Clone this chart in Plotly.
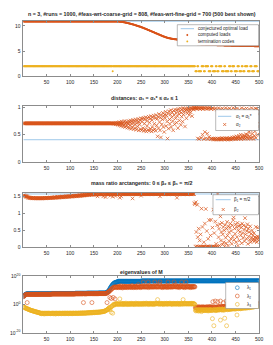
import plotly.graph_objects as go

W, H = 273, 345
FONT = "Liberation Sans"
TXT = "#262626"
BOX = "#8c8c8c"
BLUE = "#0072BD"
ORANGE = "#D95319"
YELLOW = "#EDB120"
LIGHT = "#9ec8ea"

idx = list(range(1, 501))

# ---------------- panel 1 ----------------
optimal_load = 10.9
loads = [
10.85,10.85,10.85,10.85,10.85,10.85,10.85,10.85,10.85,10.85,10.85,10.85,10.85,10.85,10.85,10.85,10.85,10.85,10.85,10.85,10.85,10.85,10.85,10.85,10.85,
10.85,10.85,10.85,10.85,10.85,10.85,10.85,10.85,10.85,10.85,10.85,10.85,10.85,10.85,10.85,10.85,10.85,10.85,10.85,10.85,10.85,10.85,10.85,10.85,10.85,
10.85,10.85,10.85,10.85,10.85,10.85,10.85,10.85,10.85,10.85,10.85,10.85,10.85,10.85,10.85,10.85,10.85,10.85,10.85,10.85,10.85,10.85,10.85,10.85,10.85,
10.85,10.85,10.85,10.85,10.85,10.85,10.85,10.85,10.85,10.85,10.85,10.85,10.85,10.85,10.85,10.85,10.85,10.85,10.85,10.85,10.85,10.85,10.85,10.85,10.85,
10.85,10.85,10.85,10.85,10.85,10.85,10.85,10.85,10.85,10.85,10.85,10.85,10.85,10.85,10.85,10.85,10.85,10.85,10.85,10.85,10.85,10.85,10.85,10.85,10.85,
10.85,10.85,10.85,10.85,10.85,10.85,10.85,10.85,10.85,10.85,10.85,10.85,10.85,10.85,10.85,10.85,10.85,10.85,10.85,10.85,10.85,10.85,10.85,10.85,10.85,
10.85,10.85,10.85,10.85,10.85,10.85,10.85,10.85,10.85,10.85,10.85,10.85,10.85,10.85,10.85,10.85,10.85,10.85,10.85,10.85,10.85,10.85,10.85,10.85,10.85,
10.85,10.85,10.85,10.85,10.85,10.85,10.85,10.85,10.85,10.85,10.85,10.85,10.85,10.85,10.85,10.85,10.85,10.85,10.85,10.85,10.85,10.85,10.85,10.85,10.85,
10.84,10.83,10.83,10.82,10.81,10.80,10.79,10.78,10.77,10.75,10.74,10.72,10.71,10.69,10.67,10.65,10.63,10.61,10.59,10.57,10.55,10.53,10.51,10.48,10.46,
10.44,10.41,10.39,10.36,10.34,10.31,10.28,10.26,10.23,10.20,10.17,10.14,10.11,10.08,10.05,10.02,9.99,9.96,9.93,9.90,9.87,9.84,9.81,9.78,9.74,
9.71,9.67,9.64,9.60,9.57,9.53,9.49,9.46,9.42,9.38,9.34,9.30,9.26,9.22,9.18,9.14,9.10,9.06,9.02,8.98,8.94,8.90,8.86,8.82,8.78,
8.74,8.70,8.66,8.62,8.58,8.54,8.50,8.46,8.42,8.38,8.34,8.30,8.26,8.22,8.18,8.14,8.10,8.06,8.02,7.98,7.94,7.91,7.87,7.84,7.80,
7.77,7.74,7.71,7.68,7.65,7.62,7.60,7.58,7.55,7.53,7.51,7.49,7.47,7.45,7.43,7.42,7.40,7.39,7.37,7.36,7.34,7.33,7.32,7.31,7.30,
7.29,7.28,7.27,7.26,7.25,7.24,7.23,7.22,7.21,7.20,7.19,7.18,7.17,7.16,7.15,7.14,7.13,7.12,7.11,7.10,7.09,7.08,7.07,7.06,7.05,
7.04,7.03,7.02,7.01,7.00,6.99,6.98,6.97,6.96,6.95,6.94,6.93,6.70,6.55,6.45,6.40,6.38,6.37,6.36,6.35,6.34,6.34,6.33,6.33,6.32,
6.32,6.31,6.31,6.30,6.30,6.29,6.29,6.28,6.28,6.27,6.27,6.26,6.26,6.25,6.25,6.24,6.24,6.23,6.23,6.22,6.22,6.21,6.21,6.20,6.20,
6.20,6.19,6.19,6.19,6.18,6.18,6.18,6.17,6.17,6.17,6.16,6.16,6.16,6.15,6.15,6.15,6.14,6.14,6.14,6.13,6.13,6.13,6.12,6.12,6.12,
6.11,6.11,6.11,6.10,6.10,6.10,6.09,6.09,6.09,6.08,6.08,6.08,6.07,6.07,6.07,6.06,6.06,6.06,6.05,6.05,6.05,6.04,6.04,6.04,6.03,
6.03,6.03,6.03,6.02,6.02,6.02,6.02,6.02,6.01,6.01,6.01,6.01,6.01,6.00,6.00,6.00,6.00,6.00,6.00,5.99,5.99,5.99,5.99,5.99,5.99,
5.99,5.98,5.98,5.98,5.98,5.98,5.98,5.97,5.97,5.97,5.97,5.97,5.97,5.97,5.96,5.96,5.96,5.96,5.96,5.96,5.96,5.95,5.95,5.95,5.95,
]
codes = [
2,2,2,2,2,2,2,2,2,2,2,2,2,2,2,2,2,2,2,2,2,2,2,2,2,
2,2,2,2,2,2,2,2,2,2,2,2,2,2,2,2,2,2,2,2,2,2,2,2,2,
2,2,2,2,2,2,2,2,2,2,2,2,2,2,2,2,2,2,2,2,2,2,2,2,2,
2,2,2,2,2,2,2,2,2,2,2,2,2,2,2,2,2,2,2,2,2,2,2,2,2,
2,2,2,2,2,2,2,2,2,2,2,2,2,2,2,2,2,2,2,2,2,2,2,2,2,
2,2,2,2,2,2,2,2,2,2,2,2,2,2,2,2,2,2,2,2,2,2,2,2,2,
2,2,2,2,2,2,2,2,2,2,2,2,2,2,2,2,2,2,2,2,2,2,2,2,2,
2,2,2,2,2,2,2,2,2,2,2,2,2,2,1,2,2,2,2,2,2,2,2,2,2,
2,2,2,2,2,2,2,2,2,2,2,2,2,2,2,2,2,2,2,2,2,2,2,2,2,
2,2,2,2,2,2,2,2,2,2,2,2,2,2,2,2,2,2,2,2,2,2,2,2,2,
2,2,2,2,2,2,2,2,2,2,2,2,2,2,2,2,2,2,2,2,2,2,2,2,2,
2,2,2,2,2,2,2,2,2,2,2,2,2,2,2,2,2,2,2,2,2,2,2,2,2,
2,2,2,2,2,2,2,2,2,2,2,2,2,2,2,2,2,2,2,2,2,2,2,2,2,
2,2,2,2,2,2,2,2,2,2,2,2,2,2,2,2,2,2,2,2,2,2,2,2,2,
2,2,2,2,2,2,2,2,2,2,2,2,2,2,
1,1,1,1,2,2,2,1,1,1,1,1,1,2,2,2,2,2,1,1,1,2,2,2,2,2,2,2,1,1,1,1,1,2,2,2,2,
1,1,1,1,1,1,2,2,2,1,1,1,1,2,2,2,2,2,2,1,1,1,1,1,2,2,2,1,1,1,1,1,1,1,2,2,2,2,
1,1,1,2,2,2,2,2,1,1,1,1,1,1,2,2,2,2,1,1,1,1,1,2,2,2,1,1,1,1,2,2,2,2,2,2,
1,1,1,1,1,2,2,2,2,1,1,1,1,1,2,2,2,2,2,2,1,1,1,1,1,
]

# ---------------- panel 2 ----------------
alpha1_star = 0.408
alpha2 = [
0.707,0.707,0.707,0.707,0.707,0.707,0.707,0.707,0.707,0.707,0.707,0.707,0.707,0.707,0.707,0.707,0.707,0.707,0.707,0.707,0.707,0.707,0.707,0.707,0.707,
0.707,0.707,0.707,0.707,0.707,0.707,0.707,0.707,0.707,0.707,0.707,0.707,0.707,0.707,0.707,0.707,0.707,0.707,0.707,0.707,0.707,0.707,0.707,0.707,0.707,
0.707,0.707,0.707,0.707,0.707,0.707,0.707,0.707,0.707,0.707,0.707,0.707,0.707,0.707,0.707,0.707,0.707,0.707,0.707,0.707,0.707,0.707,0.707,0.707,0.707,
0.707,0.707,0.707,0.707,0.707,0.707,0.707,0.707,0.707,0.707,0.707,0.707,0.707,0.707,0.707,0.707,0.707,0.707,0.707,0.707,0.707,0.707,0.707,0.707,0.707,
0.707,0.707,0.707,0.707,0.707,0.707,0.707,0.707,0.707,0.707,0.707,0.707,0.707,0.707,0.707,0.707,0.707,0.707,0.707,0.707,0.707,0.707,0.707,0.707,0.707,
0.707,0.707,0.707,0.707,0.707,0.707,0.707,0.707,0.707,0.707,0.707,0.707,0.707,0.707,0.707,0.707,0.707,0.707,0.707,0.707,0.707,0.707,0.707,0.707,0.707,
0.707,0.707,0.707,0.707,0.707,0.707,0.707,0.707,0.707,0.707,0.707,0.707,0.707,0.707,0.707,0.707,0.707,0.707,0.707,0.707,0.707,0.707,0.707,0.707,0.707,
0.707,0.707,0.707,0.707,0.707,0.707,0.707,0.707,0.707,0.707,0.707,0.707,0.707,0.707,0.707,
0.707,0.70,0.71,0.70,0.71,0.69,0.72,0.70,0.71,0.69,
0.72,0.68,0.71,0.73,0.67,0.70,0.72,0.66,0.74,0.69,0.71,0.65,0.73,0.68,0.75,0.64,0.70,0.72,0.66,0.74,0.63,0.71,0.69,0.75,0.62,
0.73,0.67,0.76,0.61,0.70,0.74,0.64,0.77,0.60,0.72,0.68,0.76,0.62,0.78,0.59,0.71,0.75,0.65,0.79,0.58,0.73,0.69,0.77,0.60,0.80,
0.58,0.74,0.79,0.62,0.81,0.57,0.70,0.78,0.60,0.82,0.56,0.75,0.66,0.80,0.59,0.83,0.57,0.72,0.79,0.61,0.84,0.56,0.77,0.64,0.82,
0.58,0.85,0.70,0.60,0.80,0.57,0.86,0.67,0.79,0.47,0.83,0.62,0.88,0.73,0.58,0.81,0.45,0.86,0.69,0.78,0.90,0.64,0.84,0.55,0.87,
0.80,0.92,0.66,0.85,0.74,0.43,0.89,0.61,0.93,0.78,0.70,0.87,0.95,0.64,0.82,0.91,0.75,0.58,0.94,0.86,0.69,0.96,0.80,0.90,0.72,
0.95,0.84,0.62,0.97,0.88,0.76,0.93,0.98,0.68,0.90,0.83,0.96,0.74,0.99,0.87,0.92,0.97,0.65,0.94,0.98,0.80,0.96,0.89,0.99,0.93,
0.97,0.86,0.99,0.95,0.91,0.98,0.99,0.84,0.97,1.00,0.96,0.99,
0.99,1.00,0.98,0.99,1.00,0.97,0.99,0.43,1.00,0.98,0.42,0.99,0.97,
1.00,0.44,0.98,0.99,0.50,0.97,1.00,0.42,0.99,0.55,0.98,0.43,1.00,0.97,0.52,0.99,0.42,0.98,0.46,1.00,0.99,0.42,0.97,0.43,0.98,
0.42,0.99,0.43,0.41,0.97,0.42,0.43,0.98,0.41,0.42,0.96,0.43,0.42,0.99,0.41,0.42,0.43,0.97,0.42,0.41,0.44,0.98,0.42,0.43,0.96,
0.42,0.41,0.43,0.99,0.42,0.44,0.42,0.97,0.41,0.43,0.42,0.98,0.44,0.42,0.41,0.96,0.43,0.45,0.42,0.99,0.43,0.46,0.42,0.97,0.44,
0.42,0.47,0.98,0.43,0.45,0.42,0.48,0.96,0.44,0.43,0.50,0.42,0.99,0.46,0.44,0.49,0.42,0.97,0.45,0.48,0.43,0.51,0.98,0.46,0.44,
0.50,0.42,0.55,0.97,0.47,0.44,0.58,0.43,0.99,0.52,0.46,0.60,0.42,0.96,0.48,0.56,0.98,0.44,0.62,0.97,0.50,0.88,0.95,0.72,0.65,
]

# ---------------- panel 3 ----------------
beta1 = 1.5708
beta2 = [
1.52,1.53,1.51,1.52,1.50,1.51,1.49,1.50,1.49,1.48,
1.47,1.46,1.47,1.46,1.45,1.46,1.45,1.46,1.45,1.44,1.45,1.46,1.45,1.44,1.45,1.44,1.45,1.45,1.44,1.45,1.44,1.45,1.44,1.45,1.44,
1.45,1.44,1.45,1.44,1.45,1.44,1.45,1.45,1.44,1.45,1.46,1.45,1.44,1.45,1.46,1.45,1.45,1.46,1.45,1.46,1.45,1.46,1.47,1.45,1.46,
1.46,1.47,1.45,1.46,1.47,1.46,1.47,1.48,1.46,1.47,1.46,1.48,1.47,1.49,1.46,1.47,1.48,1.47,1.49,1.48,1.47,1.49,1.48,1.50,1.47,
1.48,1.49,1.48,1.50,1.49,1.48,1.50,1.49,1.51,1.48,1.50,1.49,1.51,1.50,1.49,1.51,1.50,1.52,1.49,1.51,1.50,1.52,1.51,1.50,1.52,
1.51,1.53,1.50,1.52,1.51,1.53,1.52,1.51,1.53,1.52,1.54,1.51,1.53,1.52,1.54,1.53,1.55,1.52,1.54,1.53,1.55,1.54,1.53,1.55,1.54,
1.55,1.54,1.56,1.55,1.54,1.56,1.55,1.56,1.55,1.56,1.56,1.55,1.56,1.56,1.55,1.56,1.56,1.56,1.55,1.56,1.56,1.56,1.50,1.56,1.56,
1.56,1.57,1.56,1.56,1.57,1.56,1.57,1.56,1.56,1.50,1.57,1.56,1.57,1.56,1.48,1.57,1.56,1.57,1.56,1.57,1.56,1.56,1.57,1.56,1.52,
1.57,1.56,1.57,1.56,1.49,1.57,1.56,1.57,1.56,1.57,1.51,1.57,1.56,1.57,1.57,1.56,1.57,1.57,1.56,1.46,1.57,1.57,1.50,1.56,1.57,
1.57,1.56,1.57,1.57,1.57,1.56,1.57,1.57,1.57,1.56,1.57,1.57,1.57,1.56,1.57,1.57,1.57,1.57,1.56,1.57,1.57,1.44,1.57,1.57,1.57,
1.57,1.56,1.57,1.57,1.57,1.57,1.56,1.57,1.57,1.57,1.57,1.57,1.56,1.57,1.52,1.57,1.57,1.57,1.56,1.57,1.57,1.57,1.57,1.57,1.56,
1.57,1.57,1.57,1.57,1.56,1.57,1.57,1.57,1.57,1.57,1.57,1.57,1.56,1.57,1.57,1.57,1.57,1.57,1.57,1.56,1.57,1.57,1.57,1.57,1.57,
1.57,1.57,1.57,1.57,1.50,1.57,1.57,1.57,1.56,1.57,1.57,1.57,1.57,1.57,1.57,1.56,1.57,1.57,1.57,1.57,1.57,1.57,1.56,1.57,1.57,
1.57,1.57,1.57,1.57,1.57,1.56,1.57,1.57,1.57,1.57,1.57,1.57,1.57,1.57,1.57,1.46,1.57,1.57,1.57,1.56,1.57,1.57,1.57,1.57,1.57,
1.57,1.57,1.57,1.56,1.57,1.57,1.57,1.57,1.57,1.57,1.57,1.57,1.56,1.57,1.57,1.57,1.57,1.57,1.57,1.57,1.56,1.57,1.57,1.57,1.57,
1.57,1.57,
1.30,1.27,0.02,1.33,0.45,0.03,1.25,0.30,0.02,0.55,0.01,0.20,0.02,0.38,0.01,1.14,0.02,0.60,0.01,0.03,0.15,0.02,0.70,0.01,1.13,
0.02,0.48,0.01,0.03,0.25,0.02,0.80,0.01,0.02,0.35,0.81,0.01,0.02,0.58,0.03,1.11,0.01,0.42,0.02,0.76,0.01,0.10,0.02,0.65,1.57,
0.02,0.30,0.55,0.05,0.68,0.91,0.20,0.45,0.72,0.08,0.38,0.60,0.15,0.50,0.03,0.66,0.28,0.12,0.55,0.75,0.35,0.05,0.62,0.44,0.18,
0.58,0.70,0.25,0.48,0.10,0.65,0.32,0.80,0.88,0.22,0.55,0.40,0.68,0.15,0.60,0.30,0.72,0.05,0.50,0.62,0.20,0.45,0.66,0.35,0.58,
0.12,0.70,0.42,0.28,0.64,0.52,0.18,0.86,0.38,0.60,0.25,0.48,0.68,0.10,0.55,0.32,0.45,0.22,0.62,0.15,0.40,0.28,0.50,0.20,0.35,
0.25,0.42,0.18,0.30,0.22,0.60,0.28,0.15,0.32,0.58,0.20,0.26,0.30,
]

# ---------------- panel 4 ----------------
lam1 = [
6e5,1.5e6,4e6,8e6,1.2e7,2e7,3e7,4e7,5e7,5e7,
4e7,4e7,4e7,4e7,4e7,4e7,4e7,4e7,4e7,4e7,4e7,4e7,4e7,4e7,4e7,4e7,4e7,4e7,4e7,4e7,4e7,4e7,4e7,4e7,4e7,
4e7,4e7,4e7,4e7,4e7,4e7,4e7,4e7,4e7,4e7,4e7,4e7,4e7,4e7,4e7,4e7,4e7,4e7,4e7,4e7,4e7,4e7,4e7,4e7,4e7,
6e7,6e7,6e7,6e7,6e7,6e7,6e7,6e7,6e7,6e7,6e7,6e7,6e7,6e7,6e7,6e7,6e7,6e7,6e7,6e7,6e7,6e7,6e7,6e7,6e7,
6e7,6e7,6e7,6e7,6e7,6e7,6e7,6e7,6e7,6e7,6e7,6e7,6e7,6e7,6e7,6e7,6e7,6e7,6e7,6e7,6e7,6e7,6e7,6e7,6e7,
1e8,1e8,1e8,1e8,1e8,1e8,1e8,1e8,1e8,1e8,1e8,1e8,1e8,1e8,1e8,1e8,1e8,1e8,1e8,1e8,1e8,1e8,1e8,1e8,1e8,
1.2e8,1.2e8,1.2e8,1.2e8,1.2e8,1.2e8,1.2e8,1.2e8,1.2e8,1.2e8,1.2e8,1.2e8,1.2e8,1.2e8,1.2e8,1.2e8,1.2e8,1.2e8,1.2e8,1.2e8,1.2e8,1.2e8,1.2e8,1.2e8,1.2e8,
1.5e8,1.5e8,1.5e8,1.5e8,1.5e8,1.5e8,1.5e8,1.5e8,1.5e8,1.5e8,1.5e8,1.5e8,1.5e8,1.5e8,1.5e8,2e8,3e8,5e8,8e8,1.5e9,
3e9,1e10,4e10,1.5e11,6e11,2e12,7e12,2e13,6e13,1.5e14,4e14,8e14,1.5e15,2.5e15,4e15,5e15,6e15,7e15,8e15,9e15,
3e16,3e16,3e16,3e16,3e16,3e16,3e16,3e16,3e16,3e16,3e16,3e16,3e16,3e16,3e16,3e16,3e16,3e16,3e16,3e16,3e16,3e16,3e16,3e16,3e16,
3e16,3e16,3e16,3e16,3e16,3e16,3e16,3e16,3e16,3e16,3e16,3e16,3e16,3e16,3e16,3e16,3e16,3e16,3e16,3e16,3e16,3e16,3e16,3e16,3e16,
5e16,5e16,5e16,5e16,5e16,5e16,5e16,5e16,5e16,5e16,5e16,5e16,5e16,5e16,5e16,5e16,5e16,5e16,5e16,5e16,5e16,5e16,5e16,5e16,5e16,
5e16,5e16,5e16,5e16,5e16,5e16,5e16,5e16,5e16,5e16,5e16,5e16,5e16,5e16,5e16,5e16,5e16,5e16,5e16,5e16,5e16,5e16,5e16,5e16,5e16,
5e16,5e16,5e16,5e16,5e16,5e16,5e16,5e16,5e16,5e16,5e16,5e16,5e16,5e16,5e16,5e16,5e16,5e16,5e16,5e16,5e16,5e16,5e16,5e16,5e16,
5e16,5e16,5e16,5e16,5e16,5e16,5e16,5e16,5e16,5e16,5e16,5e16,5e16,5e16,5e16,5e16,5e16,5e16,5e16,5e16,5e16,5e16,5e16,5e16,5e16,
6e16,6e16,6e16,6e16,6e16,6e16,6e16,6e16,6e16,6e16,6e16,6e16,6e16,6e16,6e16,6e16,6e16,6e16,6e16,6e16,6e16,6e16,6e16,6e16,6e16,
6e16,6e16,6e16,6e16,6e16,6e16,6e16,6e16,6e16,6e16,6e16,6e16,6e16,6e16,6e16,6e16,6e16,6e16,6e16,6e16,6e16,6e16,6e16,6e16,6e16,
6e16,6e16,6e16,6e16,6e16,6e16,6e16,6e16,6e16,6e16,6e16,6e16,6e16,6e16,6e16,6e16,6e16,6e16,6e16,6e16,6e16,6e16,6e16,6e16,6e16,
6e16,6e16,6e16,6e16,6e16,6e16,6e16,6e16,6e16,6e16,6e16,6e16,6e16,6e16,6e16,6e16,6e16,6e16,6e16,6e16,6e16,6e16,6e16,6e16,6e16,
6e16,6e16,6e16,6e16,6e16,6e16,6e16,6e16,6e16,6e16,6e16,6e16,6e16,6e16,6e16,6e16,6e16,6e16,6e16,6e16,6e16,6e16,6e16,6e16,6e16,
6e16,6e16,6e16,6e16,6e16,6e16,6e16,6e16,6e16,6e16,6e16,6e16,6e16,6e16,6e16,6e16,6e16,6e16,6e16,6e16,6e16,6e16,6e16,6e16,6e16,
]
lam2 = [
3e5,8e5,2e6,4e6,6e6,1e7,1.5e7,2e7,25,2e7,
1.5e7,2e7,1.5e7,2e7,1.5e7,2e7,1.5e7,2e7,1.5e7,2e7,1.5e7,2e7,1.5e7,2e7,1.5e7,2e7,1.5e7,2e7,1.5e7,2e7,1.5e7,2e7,1.5e7,2e7,1.5e7,
2e7,2e7,2e7,2e7,2e7,2e7,2e7,2e7,2e7,2e7,2e7,2e7,2e7,2e7,2e7,2e7,2e7,2e7,2e7,2e7,2e7,2e7,2e7,2e7,2e7,
3e7,3e7,3e7,3e7,3e7,3e7,3e7,3e7,3e7,3e7,3e7,3e7,3e7,3e7,3e7,3e7,3e7,3e7,3e7,3e7,3e7,3e7,3e7,3e7,3e7,
3e7,3e7,3e7,3e7,3e7,3e7,3e7,3e7,3e7,3e7,3e7,3e7,3e7,3e7,3e7,3e7,3e7,3e7,3e7,3e7,3e7,3e7,3e7,3e7,3e7,
4e7,4e7,4e7,4e7,4e7,4e7,4e7,4e7,4e7,4e7,4e7,4e7,4e7,4e7,4e7,4e7,4e7,25,4e7,4e7,4e7,4e7,4e7,4e7,4e7,
5e7,5e7,5e7,5e7,5e7,5e7,5e7,5e7,5e7,5e7,25,5e7,5e7,5e7,5e7,5e7,5e7,5e7,5e7,5e7,5e7,5e7,5e7,5e7,5e7,
6e7,6e7,6e7,6e7,6e7,6e7,6e7,6e7,6e7,6e7,6e7,6e7,6e7,6e7,6e7,8e7,1e8,25,2e8,4e8,
8e8,1.5e9,3e9,1e5,1e10,3e10,2e4,1e11,3e11,5e11,1e5,1e12,2e12,3e12,1e4,2e12,3e12,1e12,2e12,3e12,
3e12,1e12,5e12,2e12,8e12,1e12,3e12,2e13,1e12,4e12,6e11,3e12,1e13,2e12,5e12,1e12,3e12,8e12,2e12,4e12,1e12,6e12,3e12,2e12,5e12,
2e12,8e12,3e12,1e12,5e12,3e13,2e12,4e12,1e12,6e12,3e12,2e12,9e12,4e12,1e12,5e12,2e12,3e12,1e14,4e12,2e12,6e12,3e12,1e12,5e12,
3e12,8e12,2e12,5e12,1e16,3e12,6e12,2e12,4e12,1e13,3e12,5e12,2e12,7e12,1e16,1e12,5e12,2e13,3e12,6e12,2e12,4e12,8e12,3e12,5e12,
2e12,6e12,3e12,1e16,4e12,8e12,2e12,5e12,3e12,1e13,6e12,2e12,4e12,3e14,1e16,5e12,2e12,7e12,4e12,1e12,5e12,3e12,8e12,2e12,6e12,
3e12,5e12,2e13,4e12,1e12,6e12,1e16,3e12,5e12,2e12,8e12,4e12,3e12,6e12,2e12,1e13,4e12,3e12,5e12,1e16,7e12,3e12,1e14,4e12,6e12,
2e12,5e12,3e12,8e12,4e12,1e12,6e12,3e12,2e13,5e12,1e16,4e12,2e12,6e12,3e12,5e12,1e12,7e12,3e12,1e16,2e12,6e12,3e12,1e13,5e12,
3e12,2e12,6e12,4e12,1e12,5e12,3e12,8e12,2e12,4e12,3e12,5e12,
5e12,3e12,1e-2,3e-3,1e-2,5e-3,2e-2,1e-3,8e-3,3e-2,5e-3,1e-2,2e-3,2e-2,6e-3,1e-2,4e-3,3e-2,1e-2,5e-3,2e-2,8e-3,1e-2,3e-3,2e-2,
1e-2,5e-3,3e-2,1e-2,4e-3,2e-2,8e-3,1e-2,5e-2,3e-3,1e-2,2e-2,6e-3,1e-2,1e2,3e-2,5e-3,2e-2,1e-2,3e2,8e-3,2e-2,1e-2,4e-3,1e2,
3e-2,1e-2,5e-2,2e-2,1e-2,3e2,4e-2,2e-2,1e-2,5e-2,3e-2,2e1,2e-2,6e-2,3e-2,1e-2,5e-2,3e2,2e-2,4e-2,1e-1,3e-2,6e-2,2e-2,5e-2,
1e-1,4e-2,8e-2,2e-2,1e-1,6e-2,3e-2,1e-1,5e-2,2e-1,8e-2,4e-2,1e-1,6e-2,2e-1,1e-1,5e-2,3e-1,1e-1,8e-2,2e-1,1e-1,3e-1,2e-1,1e-1,
3e-1,2e-1,5e-1,1e-1,3e-1,2e-1,5e-1,3e-1,8e-1,2e-1,5e-1,3e-1,1,4e-1,6e-1,3e-1,1,5e-1,8e-1,4e-1,1,6e-1,2,8e-1,1,
1,2,8e-1,1.5,1,2,3,1.5,2,3,2,3,4,
]
lam3 = [
2e-2,1.5e-2,1e-2,6e-3,4e-3,3e-3,2e-3,1.5e-3,1e-3,8e-4,
5e-4,4e-4,3e-4,2e-4,1.5e-4,1e-4,8e-5,6e-5,5e-5,4e-5,3e-5,2.5e-5,2e-5,1.5e-5,1.2e-5,1e-5,8e-6,6e-6,5e-6,4e-6,3e-6,3e-6,2e-6,2e-6,1.5e-6,
1e-6,5e-7,8e-7,3e-7,6e-7,1e-6,4e-7,7e-7,5e-7,2e-7,6e-7,1e-6,4e-7,5e-7,8e-7,3e-7,6e-7,5e-7,1e-6,4e-7,7e-7,5e-7,3e-7,6e-7,8e-7,
5e-7,4e-7,7e-7,1e-6,3e-7,6e-7,5e-7,8e-7,2e-7,6e-7,1e-6,4e-7,5e-7,7e-7,3e-7,6e-7,1e-6,5e-7,4e-7,8e-7,6e-7,3e-7,7e-7,5e-7,1e-6,
4e-7,6e-7,8e-7,3e-7,1e-6,5e-7,7e-7,4e-7,6e-7,1e-6,5e-7,3e-7,8e-7,6e-7,4e-7,1e-6,7e-7,5e-7,3e-7,6e-7,8e-7,1e-6,4e-7,6e-7,5e-7,
7e-7,1e-6,5e-7,8e-7,4e-7,6e-7,1e-6,7e-7,5e-7,1e-6,8e-7,6e-7,1.2e-6,5e-7,9e-7,1e-6,7e-7,1.5e-6,6e-7,1e-6,8e-7,1.2e-6,1e-6,7e-7,1.5e-6,
1e-6,2e-6,1.5e-6,8e-7,2e-6,1.2e-6,3e-6,1.5e-6,2e-6,1e-6,3e-6,2e-6,1.5e-6,4e-6,2e-6,3e-6,1.5e-6,4e-6,2.5e-6,3e-6,5e-6,2e-6,4e-6,3e-6,5e-6,
4e-6,6e-6,3e-6,5e-6,8e-6,6e-6,1e-5,7e-6,1.2e-5,1e-5,1.5e-5,2e-5,1.5e-5,3e-5,5e-5,8e-5,1e-4,2e-4,3e-4,5e-4,
1e-3,3e-3,1e-2,2e-4,5e-3,2e-2,3e-6,5e-2,1e-1,8e-7,3e-1,1,2,5e-1,1,3,2,5,3,2,
3,1,5,2,1e4,1.5,4,2,8,1,3,6,2,1,5,3,2,10,1.5,4,2,1,6,3,2,
5,1,3,8,2,4,1.5,6,2,3,1,5,2,10,3,1.5,4,2,7,3,1,5,2,4,3,
2,6,1,4,3,8,2,5,1.5,3,10,4,2,6,3,1,5,2,8,4,3,1.5,6,2,5,
3,1,8,4,2,6,3,10,5,3e3,2,7,4,1.5,5,3,8,2,6,4,3,1,5,3,7,
2,5,3,8,1.5,4,6,2,5,3,10,4,2,6,3,1,5,4,7,2,3,6,4,1.5,5,
3,8,2,5,4,1,6,3,7,2,5,4,1.5,3e3,6,3,8,2,5,4,3,6,2,5,4,
3,6,2,5,4,8,3,2,6,4,3,5,
2,1,1e-4,3e-5,2e-4,1e-4,5e-5,3e-4,1e-4,2e-5,1e-4,3e-4,5e-5,1e-4,2e-4,1e-5,1e-4,3e-4,5e-5,1e-4,2e-4,1e-4,5e-5,1e-4,3e-4,
1e-4,5e-5,2e-4,1e-4,3e-5,2e-4,1e-4,5e-5,3e-4,1e-4,2e-4,1e-4,5e-5,1e-10,2e-4,1e-4,1e-15,3e-4,1e-4,2e-4,5e-5,1e-4,3e-4,1e-4,2e-4,
2e-4,5e-4,1e-4,3e-4,2e-4,1e-11,5e-4,2e-4,3e-4,1e-4,5e-4,2e-4,3e-4,1e-4,2e-10,5e-4,3e-4,1e-3,1e-15,5e-4,2e-4,1e-3,3e-4,5e-4,1e-3,
3e-4,1e-3,5e-4,2e-3,1e-3,5e-4,2e-3,1e-3,3e-3,1e-3,2e-3,5e-4,3e-3,1e-3,2e-3,4e-8,3e-3,2e-3,1e-3,5e-3,2e-3,3e-3,1e-3,5e-3,2e-3,
3e-3,5e-3,2e-3,8e-3,3e-3,5e-3,1e-2,3e-3,5e-3,1e-2,3e-3,8e-3,1e-2,5e-3,2e-2,1e-2,5e-3,2e-2,1e-2,3e-2,1e-2,2e-2,5e-2,1e-2,3e-2,
5e-2,2e-2,1e-1,3e-2,5e-2,1e-1,5e-2,2e-1,1e-1,5e-2,2e-1,1e-1,3e-1,
]

x_ticks = [50, 100, 150, 200, 250, 300, 350, 400, 450, 500]

# ---------------- figure ----------------
fig = go.Figure()


def sc(**kw):
    fig.add_trace(go.Scatter(showlegend=False, hoverinfo="skip", **kw))


sc(x=idx, y=[optimal_load] * len(idx), mode="lines", line=dict(color=LIGHT, width=1), xaxis="x", yaxis="y")
sc(x=idx, y=loads, mode="markers", marker=dict(color=ORANGE, size=2), xaxis="x", yaxis="y")
sc(x=idx, y=codes, mode="markers", marker=dict(color=YELLOW, size=2), xaxis="x", yaxis="y")

sc(x=idx, y=[alpha1_star] * len(idx), mode="lines", line=dict(color=LIGHT, width=1), xaxis="x2", yaxis="y2")
sc(x=idx, y=alpha2, mode="markers",
   marker=dict(symbol="x-thin-open", size=3.5, color=ORANGE, line=dict(color=ORANGE, width=0.7)),
   xaxis="x2", yaxis="y2")

sc(x=idx, y=[beta1] * len(idx), mode="lines", line=dict(color=LIGHT, width=1), xaxis="x3", yaxis="y3")
sc(x=idx, y=beta2, mode="markers",
   marker=dict(symbol="x-thin-open", size=3.5, color=ORANGE, line=dict(color=ORANGE, width=0.7)),
   xaxis="x3", yaxis="y3")

for lam, col in ((lam1, BLUE), (lam2, ORANGE), (lam3, YELLOW)):
    sc(x=idx, y=lam, mode="markers",
       marker=dict(symbol="circle-open", size=4, color=col, line=dict(color=col, width=0.6)),
       xaxis="x4", yaxis="y4")

X0, X1 = 15.4, 251.2
panels = [(12.7, 68.3), (98.3, 154.0), (185.0, 239.3), (268.3, 324.8)]
yspecs = [
    dict(range=[0, 11], tickvals=[0, 5, 10]),
    dict(range=[0, 1.02], tickvals=[0, 0.5, 1]),
    dict(range=[0, 1.6], tickvals=[0, 0.5, 1, 1.5]),
    dict(type="log", range=[-20, 20], tickvals=[1e-20, 1, 1e20],
         ticktext=["10<sup>-20</sup>", "10<sup>0</sup>", "10<sup>20</sup>"]),
]
tickfont = dict(family=FONT, size=5, color=TXT)
common = dict(ticks="inside", ticklen=2, tickwidth=0.6, tickcolor=BOX, showline=True,
              linecolor=BOX, linewidth=0.8, mirror="ticks", showgrid=False, zeroline=False,
              tickfont=tickfont, automargin=False, fixedrange=True)

layout = dict(width=W, height=H, margin=dict(l=0, r=0, t=0, b=0),
              paper_bgcolor="white", plot_bgcolor="white", showlegend=False,
              font=dict(family=FONT, color=TXT))
for i, (top, bot) in enumerate(panels):
    n = "" if i == 0 else str(i + 1)
    layout["xaxis" + n] = dict(domain=[X0 / W, X1 / W], anchor="y" + n, range=[1, 500],
                               tickvals=x_ticks, ticklabelstandoff=1, **common)
    layout["yaxis" + n] = dict(domain=[1 - bot / H, 1 - top / H], anchor="x" + n,
                               ticklabelstandoff=1, **yspecs[i], **common)

shapes, annots = [], []


def rect(x0, x1, y0, y1):
    shapes.append(dict(type="rect", xref="paper", yref="paper", x0=x0 / W, x1=x1 / W,
                       y0=1 - y1 / H, y1=1 - y0 / H, fillcolor="white",
                       line=dict(color=BOX, width=0.6), layer="above"))


def hline(x0, x1, y, color):
    shapes.append(dict(type="line", xref="paper", yref="paper", x0=x0 / W, x1=x1 / W,
                       y0=1 - y / H, y1=1 - y / H, line=dict(color=color, width=1), layer="above"))


def dot(x, y, r, color, fill=True):
    shapes.append(dict(type="circle", xref="paper", yref="paper", x0=(x - r) / W, x1=(x + r) / W,
                       y0=1 - (y + r) / H, y1=1 - (y - r) / H,
                       fillcolor=color if fill else "rgba(0,0,0,0)",
                       line=dict(color=color, width=0.1 if fill else 0.6), layer="above"))


def cross(x, y, r, color):
    for s in (1, -1):
        shapes.append(dict(type="line", xref="paper", yref="paper", x0=(x - r) / W, x1=(x + r) / W,
                           y0=1 - (y + s * r) / H, y1=1 - (y - s * r) / H,
                           line=dict(color=color, width=0.7), layer="above"))


def text(x, y, s, size=4.6, bold=False, anchor="left"):
    annots.append(dict(xref="paper", yref="paper", x=x / W, y=1 - y / H,
                       text=("<b>%s</b>" % s) if bold else s, showarrow=False,
                       xanchor=anchor, yanchor="middle", borderpad=0,
                       font=dict(family=FONT, size=size, color=TXT)))


# titles
text(133.5, 6.0, "n = 3, #runs = 1000, #feas-wrt-coarse-grid = 808, #feas-wrt-fine-grid = 700 (500 best shown)",
     size=5.3, bold=True, anchor="center")
text(136.0, 90.5, "distances: α₁ = α₁* ≤ α₂ ≤ 1", size=5.3, bold=True, anchor="center")
text(133.5, 175.5, "mass ratio arctangents: 0 ≤ β₂ ≤ β₁ = π/2", size=5.3, bold=True, anchor="center")
text(133.5, 264.0, "eigenvalues of M", size=5.3, bold=True, anchor="center")

# legend 1
rect(169.3, 250.5, 16.7, 37.8)
hline(172.7, 186.0, 20.7, LIGHT)
dot(179.3, 27.0, 0.9, ORANGE)
dot(179.3, 33.4, 0.9, YELLOW)
text(189.3, 20.7, "conjectured optimal load")
text(189.3, 27.0, "computed loads")
text(189.3, 33.4, "termination codes")

# legend 2
rect(207.7, 250.5, 101.7, 122.5)
hline(210.0, 223.3, 108.3, LIGHT)
cross(216.7, 116.5, 1.5, ORANGE)
text(226.7, 108.3, "α₁ = α₁*")
text(226.7, 116.5, "α₂")

# legend 3
rect(205.0, 250.5, 186.7, 206.7)
hline(207.7, 222.7, 191.7, LIGHT)
cross(215.2, 201.5, 1.5, ORANGE)
text(225.3, 191.7, "β₁ = π/2")
text(225.3, 201.5, "β₂")

# legend 4
rect(217.7, 250.5, 274.5, 300.5)
for yy, col, lab in ((279.7, BLUE, "λ₁"), (288.0, ORANGE, "λ₂"), (296.3, YELLOW, "λ₃")):
    dot(229.3, yy, 1.9, col, fill=False)
    text(237.5, yy, lab)

layout["shapes"] = shapes
layout["annotations"] = annots
fig.update_layout(**layout)
fig.write_html("out.html")
